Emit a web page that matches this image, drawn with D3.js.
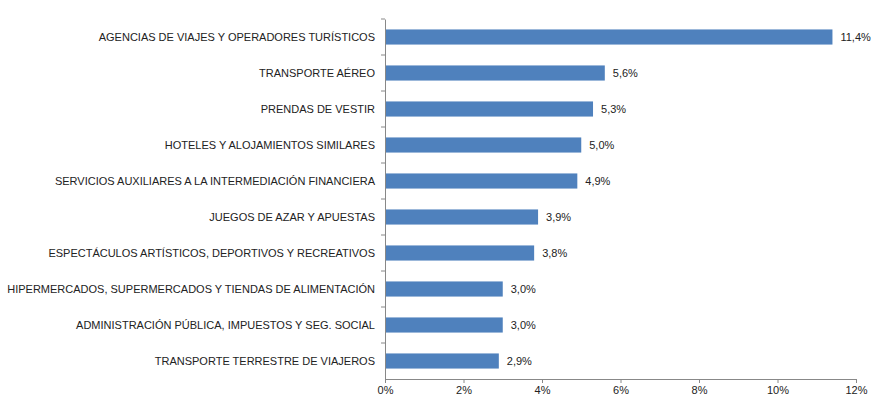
<!DOCTYPE html>
<html><head><meta charset="utf-8">
<script src="https://cdn.jsdelivr.net/npm/d3@7"></script>
<style>body{margin:0;background:#fff}text{font-family:"Liberation Sans",Arial,sans-serif;font-size:11px;fill:#222}</style>
</head><body><svg id="c" width="888" height="410"></svg>
<script>
const categories=["AGENCIAS DE VIAJES Y OPERADORES TURÍSTICOS","TRANSPORTE AÉREO","PRENDAS DE VESTIR","HOTELES  Y ALOJAMIENTOS SIMILARES","SERVICIOS AUXILIARES A LA INTERMEDIACIÓN FINANCIERA","JUEGOS DE AZAR Y APUESTAS","ESPECTÁCULOS ARTÍSTICOS, DEPORTIVOS Y RECREATIVOS","HIPERMERCADOS, SUPERMERCADOS Y TIENDAS DE ALIMENTACIÓN","ADMINISTRACIÓN PÚBLICA, IMPUESTOS Y SEG. SOCIAL","TRANSPORTE TERRESTRE DE VIAJEROS"];
const values=[11.4,5.6,5.3,5.0,4.9,3.9,3.8,3.0,3.0,2.9];
const ticks=[0,2,4,6,8,10,12];
const svg=d3.select("#c");
const x=d3.scaleLinear().domain([0,12]).range([385,856]);
const y=d3.scaleBand().domain(categories).range([19,379]).paddingInner(0.58).paddingOuter(0.29);
svg.selectAll("rect").data(values).join("rect").attr("x",x(0)).attr("y",(d,i)=>y(categories[i])).attr("width",d=>x(d)-x(0)).attr("height",y.bandwidth()).attr("fill","#4F81BD");
svg.selectAll(".v").data(values).join("text").attr("x",d=>x(d)+8).attr("y",(d,i)=>y(categories[i])+y.bandwidth()/2+4).text(d=>d.toFixed(1).replace(".",",")+"%");
const xa=svg.append("g").attr("transform","translate(0,379)").call(d3.axisBottom(x).tickValues(ticks).tickFormat(d=>d+"%").tickSize(4).tickSizeOuter(0));
const ya=svg.append("g").attr("transform","translate(385,0)").call(d3.axisLeft(y).tickSize(4).tickSizeOuter(0).tickPadding(6));
[xa,ya].forEach(a=>{a.selectAll("path,line").attr("stroke","#888");a.selectAll("text").style("font-family","Liberation Sans, Arial").style("font-size","11px").attr("fill","#222");});
ya.selectAll(".tick line").attr("transform",`translate(0,${-y.step()/2})`);
</script></body></html>
